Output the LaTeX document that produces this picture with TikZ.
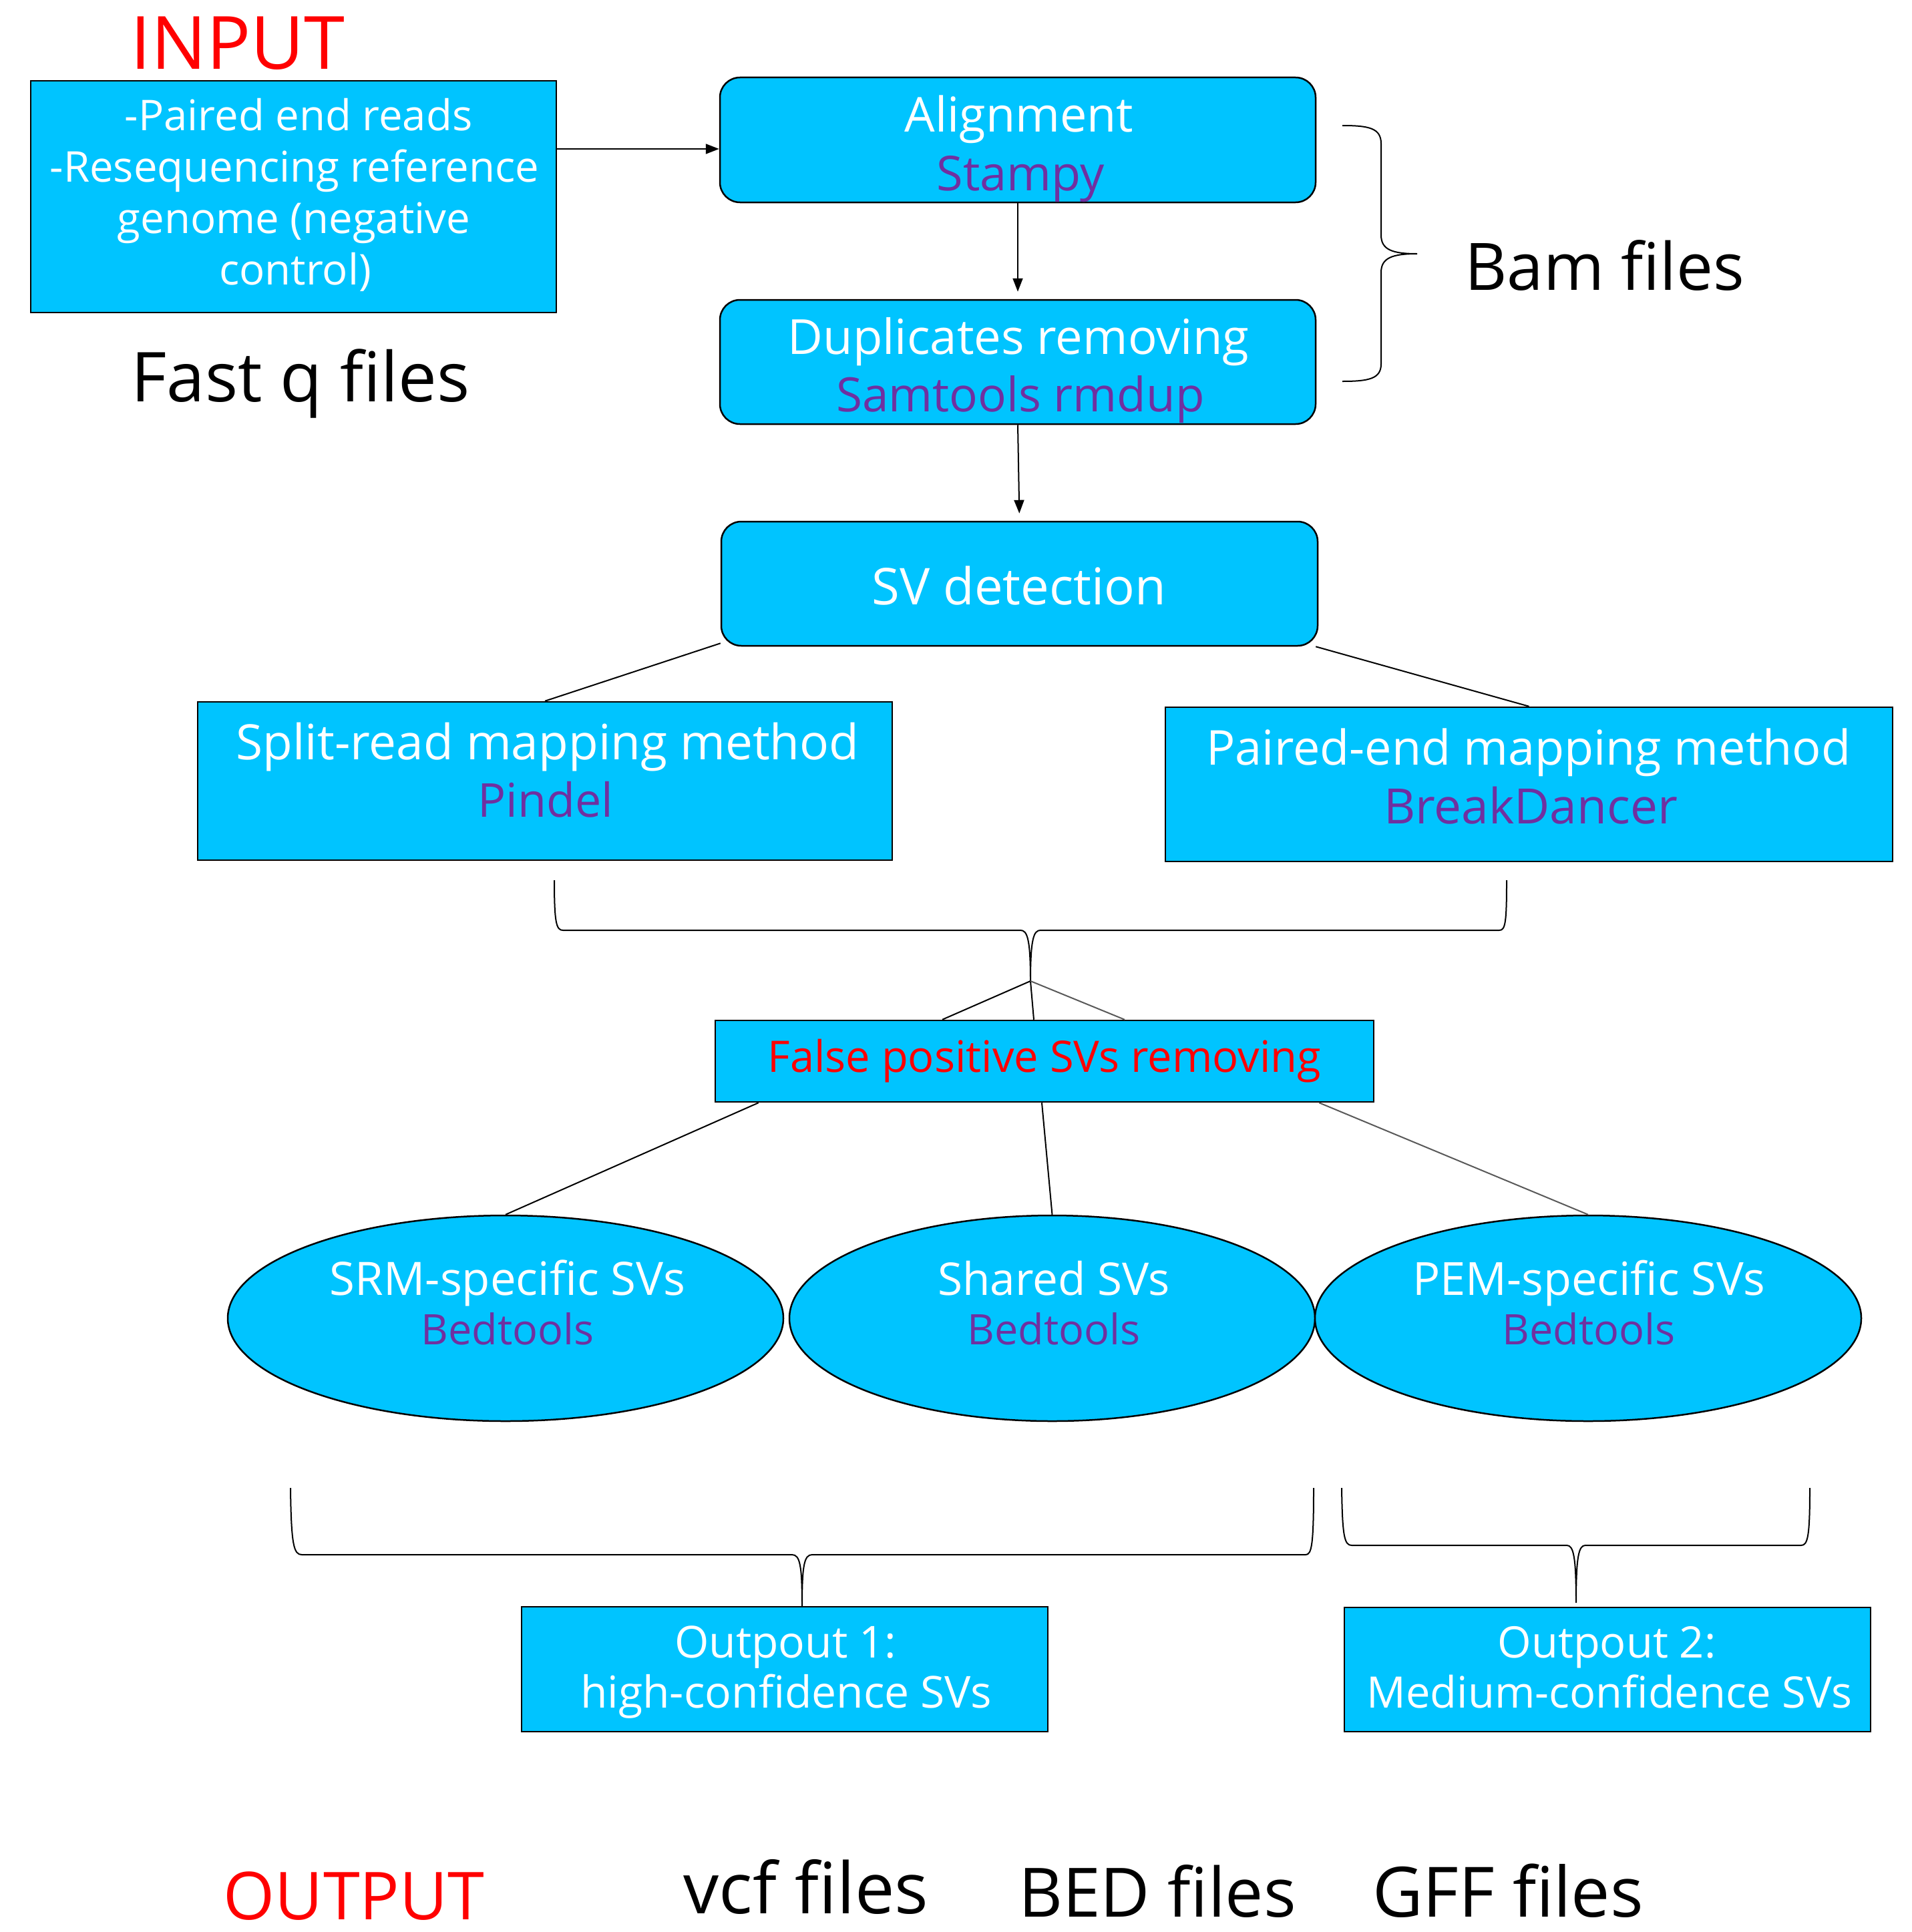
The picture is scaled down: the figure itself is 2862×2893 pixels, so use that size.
\documentclass[tikz,border=0pt]{standalone}
\usepackage{fontspec}
\setmainfont{Open Sans}
\usetikzlibrary{arrows.meta,shapes.geometric}
\definecolor{boxfill}{RGB}{0,196,255}
\definecolor{tool}{RGB}{112,48,160}
\definecolor{hot}{RGB}{255,0,0}
\newcommand{\fsz}[1]{\fontsize{#1}{#1}\selectfont}
\begin{document}
\begin{tikzpicture}[x=1pt,y=-1pt,
  box/.style={draw=black,line width=2.5pt,fill=boxfill,inner sep=0pt},
  rbox/.style={box,rounded corners=30pt},
  ebox/.style={box,ellipse},
  txt/.style={anchor=base,inner sep=0pt},
  wt/.style={txt,text=white},
  tl/.style={txt,text=tool},
  conn/.style={line width=2pt},
  arr/.style={conn,-{Triangle[length=20pt,width=15pt]}},
  brc/.style={line width=2pt}]
\useasboundingbox (0,0) rectangle (2862,2893);
\fill[white] (0,0) rectangle (2862,2893);

% ---------- boxes ----------
\node[box,minimum width=787,minimum height=347] (inp) at (439.5,294.5) {};
\node[rbox,minimum width=892,minimum height=187] (align) at (1524,209.5) {};
\node[rbox,minimum width=892,minimum height=186] (dup) at (1524,542) {};
\node[rbox,minimum width=893,minimum height=186] (sv) at (1526.5,874) {};
\node[box,minimum width=1040,minimum height=237] (split) at (816,1169.5) {};
\node[box,minimum width=1089,minimum height=231] (paired) at (2289.5,1174.5) {};
\node[box,minimum width=986,minimum height=122] (fp) at (1564,1589) {};
\node[ebox,minimum width=832,minimum height=308] (srm) at (757,1974) {};
\node[ebox,minimum width=787,minimum height=308] (shared) at (1575.5,1974) {};
\node[ebox,minimum width=818,minimum height=308] (pem) at (2378,1974) {};
\node[box,minimum width=788,minimum height=187] (out1) at (1175,2499.5) {};
\node[box,minimum width=788,minimum height=186] (out2) at (2407,2500) {};

% ---------- texts ----------
\node[txt,text=hot,font=\fsz{110}] (tin) at (356,104) {INPUT};
\node[wt,font=\fsz{63.5}] (in1) at (447,195) {-Paired end reads};
\node[wt,font=\fsz{63.5}] (in2) at (441,272) {-Resequencing reference};
\node[wt,font=\fsz{63.5}] (in3) at (440,349) {genome (negative};
\node[wt,font=\fsz{63.5}] (in4) at (442,426) {control)};
\node[txt,font=\fsz{103}] (fastq) at (450,601) {Fast q files};

\node[wt,font=\fsz{72}] (alT) at (1526,197) {Alignment};
\node[tl,font=\fsz{72}] (alS) at (1528,285) {Stampy};
\node[wt,font=\fsz{72.5}] (duT) at (1525,530) {Duplicates removing};
\node[tl,font=\fsz{71}] (duS) at (1528,616) {Samtools rmdup};
\node[txt,font=\fsz{98}] (bam) at (2403,434) {Bam files};
\node[wt,font=\fsz{76}] (svT) at (1526,905) {SV detection};

\node[wt,font=\fsz{73}] (spT) at (820,1137) {Split-read mapping method};
\node[tl,font=\fsz{70}] (spS) at (817,1223) {Pindel};
\node[wt,font=\fsz{72}] (paT) at (2289,1145) {Paired-end mapping method};
\node[tl,font=\fsz{73}] (paS) at (2292,1233) {BreakDancer};

\node[txt,text=hot,font=\fsz{65}] (fpT) at (1564,1605) {False positive SVs removing};

\node[wt,font=\fsz{69}] (srT) at (760,1939) {SRM-specific SVs};
\node[tl,font=\fsz{63}] (srS) at (760,2013) {Bedtools};
\node[wt,font=\fsz{67.5}] (shT) at (1578,1939) {Shared SVs};
\node[tl,font=\fsz{63}] (shS) at (1578,2013) {Bedtools};
\node[wt,font=\fsz{68.5}] (peT) at (2379,1939) {PEM-specific SVs};
\node[tl,font=\fsz{63}] (peS) at (2379,2013) {Bedtools};

\node[wt,font=\fsz{66}] (o1a) at (1176,2482) {Outpout 1:};
\node[wt,font=\fsz{66}] (o1b) at (1177,2557) {high-confidence SVs};
\node[wt,font=\fsz{65}] (o2a) at (2406,2482) {Outpout 2:};
\node[wt,font=\fsz{65}] (o2b) at (2410,2557) {Medium-confidence SVs};

\node[txt,text=hot,font=\fsz{99}] (tout) at (530,2874) {OUTPUT};
\node[txt,font=\fsz{106}] (vcf) at (1207,2865) {vcf files};
\node[txt,font=\fsz{102}] (bed) at (1733,2870) {BED files};
\node[txt,font=\fsz{104}] (gff) at (2258,2870) {GFF files};

% ---------- connectors ----------
\draw[arr] ([yshift=71.5pt]inp.east) -- ([yshift=-13.5pt]align.west);
\draw[arr,shorten >=11pt] (align.south) -- (dup.north);
\draw[arr,shorten >=11pt] (dup.south) -- (sv.north);
\draw[conn] ([yshift=5pt]sv.south west) -- (split.north);
\draw[conn] ([xshift=-4pt]sv.south east) -- (paired.north);

% brace right of alignment / duplicates
\coordinate (bamTip) at (2122,380);
\draw[brc] (2010,188) .. controls (2050,188) and (2068,192) .. (2068,215)
  -- (2068,352) .. controls (2068,374) and (2085,380) .. (bamTip)
  .. controls (2085,380) and (2068,386) .. (2068,408)
  -- (2068,545) .. controls (2068,567) and (2050,571) .. (2010,571);

% brace under split / paired
\coordinate (midTip) at (1543,1469);
\draw[brc] (830,1318) .. controls (830,1382) and (833,1393) .. (843,1393)
  -- (1528,1393) .. controls (1538,1393) and (1543,1405) .. (midTip)
  .. controls (1543,1405) and (1548,1393) .. (1558,1393)
  -- (2245,1393) .. controls (2254,1393) and (2256,1382) .. (2256,1318);
\draw[conn] (midTip) -- ([xshift=-153pt]fp.north);
\draw[conn] (midTip) -- ([xshift=-16pt]fp.north);
\draw[conn,black!65] (midTip) -- ([xshift=120pt]fp.north);

% false positive to ellipses
\draw[conn] ([xshift=66pt]fp.south west) -- (srm.north);
\draw[conn] ([xshift=-4pt]fp.south) -- (shared.north);
\draw[conn,black!65] ([xshift=-83pt]fp.south east) -- (pem.north);

% brace to output 1
\draw[brc] (435,2228) .. controls (436,2314) and (440,2328) .. (452,2328)
  -- (1186,2328) .. controls (1198,2328) and (1201,2345) .. (out1.north -| 1201,0)
  .. controls (1201,2345) and (1204,2328) .. (1216,2328)
  -- (1955,2328) .. controls (1964,2328) and (1967,2314) .. (1967,2228);

% brace to output 2
\coordinate (o2Tip) at (2360,2400);
\draw[brc] (2009,2228) .. controls (2010,2300) and (2013,2314) .. (2024,2314)
  -- (2346,2314) .. controls (2356,2314) and (2360,2330) .. (o2Tip)
  .. controls (2360,2330) and (2364,2314) .. (2374,2314)
  -- (2697,2314) .. controls (2707,2314) and (2710,2300) .. (2710,2228);
\end{tikzpicture}
\end{document}
